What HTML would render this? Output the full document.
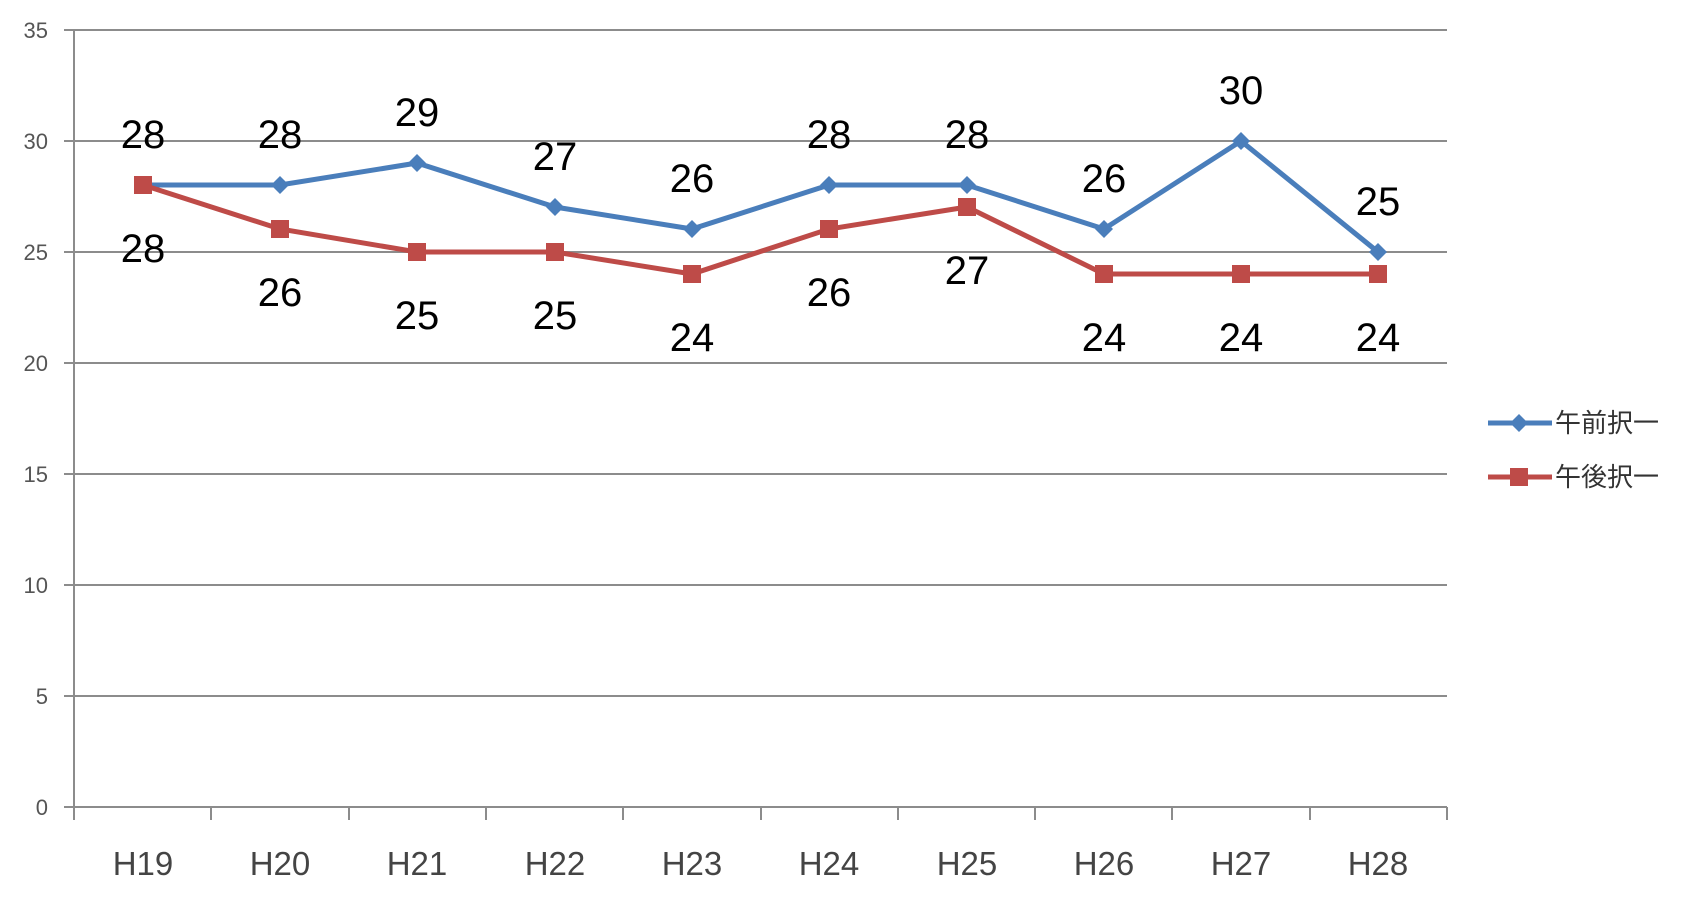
<!DOCTYPE html>
<html><head><meta charset="utf-8"><style>body{margin:0;background:#fff}</style></head><body>
<svg width="1693" height="900" xmlns="http://www.w3.org/2000/svg" font-family="Liberation Sans, Noto Sans CJK JP, sans-serif">
<g stroke="#8c8c8c" stroke-width="2">
<line x1="64" y1="30" x2="1447" y2="30"/><line x1="64" y1="141" x2="1447" y2="141"/>
<line x1="64" y1="252" x2="1447" y2="252"/><line x1="64" y1="363" x2="1447" y2="363"/>
<line x1="64" y1="474" x2="1447" y2="474"/><line x1="64" y1="585" x2="1447" y2="585"/>
<line x1="64" y1="696" x2="1447" y2="696"/><line x1="64" y1="807" x2="1447" y2="807"/>
<line x1="74" y1="30" x2="74" y2="820"/>
<line x1="211" y1="807" x2="211" y2="820"/><line x1="349" y1="807" x2="349" y2="820"/><line x1="486" y1="807" x2="486" y2="820"/><line x1="623" y1="807" x2="623" y2="820"/><line x1="761" y1="807" x2="761" y2="820"/><line x1="898" y1="807" x2="898" y2="820"/><line x1="1035" y1="807" x2="1035" y2="820"/><line x1="1172" y1="807" x2="1172" y2="820"/><line x1="1310" y1="807" x2="1310" y2="820"/><line x1="1447" y1="807" x2="1447" y2="820"/>
</g>
<g fill="#555" font-size="22" text-anchor="end">
<text x="48" y="38">35</text><text x="48" y="149">30</text><text x="48" y="260">25</text><text x="48" y="371">20</text><text x="48" y="482">15</text><text x="48" y="593">10</text><text x="48" y="704">5</text><text x="48" y="815">0</text>
</g>
<g fill="#444" font-size="33" text-anchor="middle">
<text x="143" y="875">H19</text><text x="280" y="875">H20</text><text x="417" y="875">H21</text><text x="555" y="875">H22</text><text x="692" y="875">H23</text><text x="829" y="875">H24</text><text x="967" y="875">H25</text><text x="1104" y="875">H26</text><text x="1241" y="875">H27</text><text x="1378" y="875">H28</text>
</g>
<polyline fill="none" stroke="#4a7ebb" stroke-width="5" points="143,185 280,185 417,163 555,207 692,229 829,185 967,185 1104,229 1241,141 1378,252"/>
<polyline fill="none" stroke="#be4b48" stroke-width="5" points="143,185 280,229 417,252 555,252 692,274 829,229 967,207 1104,274 1241,274 1378,274"/>
<g fill="#4a7ebb">
<path d="M143,176l9,9l-9,9l-9,-9z"/><path d="M280,176l9,9l-9,9l-9,-9z"/><path d="M417,154l9,9l-9,9l-9,-9z"/><path d="M555,198l9,9l-9,9l-9,-9z"/><path d="M692,220l9,9l-9,9l-9,-9z"/><path d="M829,176l9,9l-9,9l-9,-9z"/><path d="M967,176l9,9l-9,9l-9,-9z"/><path d="M1104,220l9,9l-9,9l-9,-9z"/><path d="M1241,132l9,9l-9,9l-9,-9z"/><path d="M1378,243l9,9l-9,9l-9,-9z"/>
</g>
<g fill="#be4b48">
<rect x="134" y="176" width="18" height="18"/><rect x="271" y="220" width="18" height="18"/><rect x="408" y="243" width="18" height="18"/><rect x="546" y="243" width="18" height="18"/><rect x="683" y="265" width="18" height="18"/><rect x="820" y="220" width="18" height="18"/><rect x="958" y="198" width="18" height="18"/><rect x="1095" y="265" width="18" height="18"/><rect x="1232" y="265" width="18" height="18"/><rect x="1369" y="265" width="18" height="18"/>
</g>
<g fill="#000" font-size="40" text-anchor="middle">
<text x="143" y="148">28</text><text x="280" y="148">28</text><text x="417" y="126">29</text><text x="555" y="170">27</text><text x="692" y="192">26</text><text x="829" y="148">28</text><text x="967" y="148">28</text><text x="1104" y="192">26</text><text x="1241" y="104">30</text><text x="1378" y="215">25</text>
<text x="143" y="262">28</text><text x="280" y="306">26</text><text x="417" y="329">25</text><text x="555" y="329">25</text><text x="692" y="351">24</text><text x="829" y="306">26</text><text x="967" y="284">27</text><text x="1104" y="351">24</text><text x="1241" y="351">24</text><text x="1378" y="351">24</text>
</g>
<line x1="1488" y1="423" x2="1552" y2="423" stroke="#4a7ebb" stroke-width="5"/>
<path d="M1519,414l9,9l-9,9l-9,-9z" fill="#4a7ebb"/>
<line x1="1488" y1="477" x2="1552" y2="477" stroke="#be4b48" stroke-width="5"/>
<rect x="1510" y="468" width="18" height="18" fill="#be4b48"/>
<g fill="#333" font-size="26">
<text x="1555" y="432">午前択一</text><text x="1555" y="486">午後択一</text>
</g>
</svg>
</body></html>
